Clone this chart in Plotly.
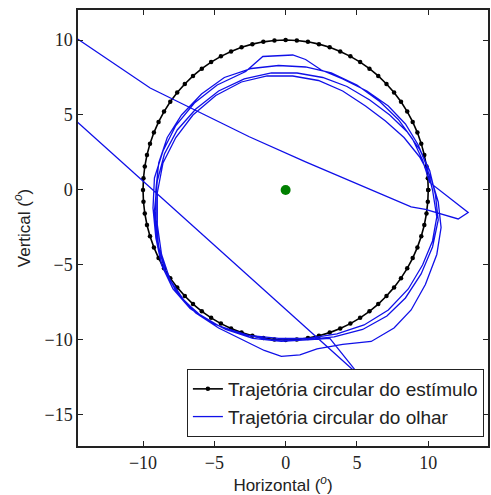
import numpy as np
import plotly.graph_objects as go

# Stimulus: circular trajectory, radius 10 deg, 80 samples
n_stim = 80
stim_radius = 10.0
theta = np.linspace(0, 2 * np.pi, n_stim + 1)
stim_x = stim_radius * np.cos(theta)
stim_y = stim_radius * np.sin(theta)

# Gaze trajectory
gaze_x = [-15.0, -9.5, -2.55, 1.4, 8.8, 9.8, 12.1, 12.8, 10.1,
          9.6, 8.9, 7.9, 6.6, 5.0, 3.2, 1.4, -0.5, -2.4, -4.3, -5.9, -7.3, -8.3, -8.9, -9.1,
          -9.1, -8.9, -8.4, -7.5, -6.2, -4.6, -2.6, -0.5, 1.6, 3.6, 5.5, 7.2, 8.6, 9.6, 10.3, 10.6, 10.3,
          9.9, 9.3, 8.4, 7.2, 5.7, 4.0, 2.5, 1.4, 0.5, -1.6, -2.8, -4.8, -6.4, -7.7, -8.6, -9.2,
          -9.3, -9.1, -8.7, -7.9, -6.7, -5.1, -3.2, -1.0, 1.2, 3.4, 5.4, 7.1, 8.4, 9.5, 10.3, 10.7, 10.5,
          10.1, 9.4, 8.5, 7.3, 5.9, 4.3, 2.6, 0.8, -1.0, -2.9, -4.7, -6.3, -7.6, -8.5, -9.0,
          -9.2, -9.0, -8.5, -7.6, -6.3, -4.7, -3.0, -1.5, -0.3, 1.0, 2.2, 4.0, 6.0, 7.6, 8.8, 9.8, 10.6, 10.9, 10.7,
          10.2, 9.4, 8.3, 7.0, 5.6, 4.0, 2.3, 0.5, -1.3, -3.1, -4.9, -6.5, -7.7, -8.6, -9.0,
          -9.0, -8.7, -8.1, -7.1, -5.8, -4.2, -2.3, -0.3, 1.5, 3.1,
          5.2, -15.0]
gaze_y = [10.33, 6.8, 3.55, 1.87, -1.13, -1.3, -1.93, -1.5, 0.5,
          2.0, 3.4, 4.7, 5.9, 7.0, 7.8, 8.2, 8.3, 8.1, 7.5, 6.4, 5.0, 3.5, 1.8, 0.0,
          -2.0, -3.8, -5.5, -7.0, -8.2, -9.1, -9.7, -9.9, -9.9, -9.6, -9.0, -8.0, -6.6, -5.0, -3.4, -1.8, 0.0,
          1.6, 3.0, 4.4, 5.6, 6.6, 7.4, 8.0, 8.7, 9.0, 8.9, 7.9, 7.0, 5.8, 4.3, 2.6, 0.8,
          -1.2, -3.2, -5.0, -6.6, -7.9, -8.9, -9.6, -10.0, -10.0, -9.8, -9.3, -8.4, -7.2, -5.6, -3.8, -2.0, -0.3,
          1.3, 2.7, 3.9, 5.0, 6.0, 6.9, 7.5, 7.8, 7.8, 7.4, 6.6, 5.4, 4.0, 2.4, 0.6,
          -1.4, -3.4, -5.3, -6.9, -8.2, -9.2, -10.0, -10.7, -11.1, -11.0, -10.6, -10.3, -10.1, -9.2, -8.0, -6.3, -4.3, -2.5, -0.8,
          0.8, 2.2, 3.5, 4.6, 5.6, 6.6, 7.3, 7.6, 7.6, 7.2, 6.3, 5.0, 3.5, 1.8, -0.2,
          -2.3, -4.3, -6.0, -7.4, -8.5, -9.3, -9.9, -10.1, -10.0, -9.9,
          -12.4, 4.87]

# Fixation point
fix_x = [0.0]
fix_y = [0.0]

x_ticks = [-10, -5, 0, 5, 10]
y_ticks = [-15, -10, -5, 0, 5, 10]

fig = go.Figure()
fig.add_trace(go.Scatter(
    x=stim_x, y=stim_y, mode="lines+markers",
    line=dict(color="black", width=1.6),
    marker=dict(color="black", size=4.5),
    name="Trajetória circular do estímulo"))
fig.add_trace(go.Scatter(
    x=gaze_x, y=gaze_y, mode="lines",
    line=dict(color="#1010e8", width=1.3),
    name="Trajetória circular do olhar"))
fig.add_trace(go.Scatter(
    x=fix_x, y=fix_y, mode="markers",
    marker=dict(color="#008000", size=10),
    showlegend=False))

axis_common = dict(
    showgrid=False, zeroline=False, showline=True, linecolor="#222222", linewidth=1.5,
    ticks="inside", ticklen=5, tickwidth=1, tickcolor="#222222", mirror="allticks",
    tickfont=dict(family="Liberation Serif", size=18, color="#222222"),
)

fig.update_layout(
    width=491, height=495,
    margin=dict(l=78, r=1, t=10, b=49),
    paper_bgcolor="white", plot_bgcolor="white",
    xaxis=dict(range=[-14.56, 14.19], tickvals=x_ticks,
               title=dict(text="Horizontal (<i><sup>o</sup></i>)", standoff=6,
                          font=dict(family="Liberation Sans", size=17, color="#222222")),
               **axis_common),
    yaxis=dict(range=[-17.07, 12.0], tickvals=y_ticks,
               title=dict(text="Vertical (<i><sup>o</sup></i>)", standoff=10,
                          font=dict(family="Liberation Sans", size=17, color="#222222")),
               **axis_common),
    legend=dict(x=0.990, y=0.0206, xanchor="right", yanchor="bottom",
                bgcolor="white", bordercolor="#222222", borderwidth=1,
                font=dict(family="Liberation Sans", size=19, color="#222222"),
                tracegroupgap=0, itemwidth=30),
    showlegend=True,
)

fig.write_html("out.html")
